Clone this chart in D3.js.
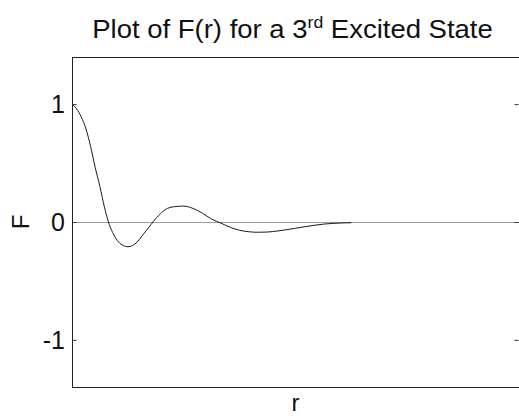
<!DOCTYPE html>
<html>
<head>
<meta charset="utf-8">
<script src="https://cdn.jsdelivr.net/npm/d3@7"></script>
<style>
  html, body { margin: 0; padding: 0; background: #fff; }
  text { font-family: "Liberation Sans", Arial, sans-serif; fill: #111; }
</style>
</head>
<body>
<div id="chart"></div>
<script>

// values
const rValues = [0, 0.25, 0.5, 0.75, 1, 1.25, 1.5, 1.75, 2, 2.25, 2.5, 2.75, 3, 3.25, 3.5, 3.75,
  4, 4.25, 4.5, 4.75, 5, 5.5, 6, 6.5, 7, 7.5, 8, 8.5, 9, 9.5, 10, 10.5, 11, 11.5, 12, 12.5,
  13, 13.5, 14, 14.5, 15];
const fValues = [1.0, 0.96, 0.89, 0.79, 0.64, 0.46, 0.30, 0.12, -0.02, -0.11, -0.17, -0.20, -0.21,
  -0.20, -0.17, -0.12, -0.07, -0.02, 0.03, 0.07, 0.105, 0.13, 0.135, 0.115, 0.075, 0.025, -0.01,
  -0.045, -0.07, -0.083, -0.087, -0.085, -0.077, -0.066, -0.053, -0.04, -0.028, -0.018, -0.012,
  -0.008, -0.006];
const yTicks = [-1, 0, 1];

const W = 519, H = 416;
const M = { top: 57, right: 0, bottom: 29, left: 72 };

const svg = d3.select('#chart').append('svg')
  .attr('width', W)
  .attr('height', H);

const x = d3.scaleLinear().domain([0, 24]).range([M.left, W - M.right]);
const y = d3.scaleLinear().domain([-1.4, 1.4]).range([H - M.bottom, M.top]);

// zero line
svg.append('line')
  .attr('x1', x(0)).attr('x2', x(24))
  .attr('y1', Math.round(y(0)) + 0.5).attr('y2', Math.round(y(0)) + 0.5)
  .attr('stroke', '#9a9a9a')
  .attr('stroke-width', 1);

// curve
const line = d3.line()
  .x((d, i) => x(rValues[i]))
  .y((d) => y(d))
  .curve(d3.curveMonotoneX);

svg.append('path')
  .datum(fValues)
  .attr('d', line)
  .attr('fill', 'none')
  .attr('stroke', '#1a1a1a')
  .attr('stroke-width', 1);

// box
svg.append('rect')
  .attr('x', M.left + 0.5)
  .attr('y', M.top + 0.5)
  .attr('width', W - M.right - M.left)
  .attr('height', H - M.bottom - M.top)
  .attr('fill', 'none')
  .attr('stroke', '#222')
  .attr('stroke-width', 1);

// left and right axes, ticks pointing inward
const left = svg.append('g')
  .attr('transform', `translate(${M.left + 0.5},0)`)
  .call(d3.axisRight(y).tickValues(yTicks).tickSize(4).tickFormat(''));
left.select('.domain').remove();
left.selectAll('line').attr('stroke', '#333');

const right = svg.append('g')
  .attr('transform', `translate(${W - M.right - 0.5},0)`)
  .call(d3.axisLeft(y).tickValues(yTicks).tickSize(4).tickFormat(''));
right.select('.domain').remove();
right.selectAll('line').attr('stroke', '#333');

svg.append('g')
  .selectAll('text')
  .data(yTicks)
  .join('text')
    .attr('x', M.left - 7)
    .attr('y', (d) => y(d))
    .attr('dy', '0.36em')
    .attr('text-anchor', 'end')
    .style('font-size', '25px')
    .text((d) => d === -1 ? '-1' : d);

// axis labels
svg.append('text')
  .attr('transform', `translate(29, ${y(0)}) rotate(-90)`)
  .attr('text-anchor', 'middle')
  .style('font-size', '24px')
  .text('F');

svg.append('text')
  .attr('x', (M.left + W - M.right) / 2)
  .attr('y', 411)
  .attr('text-anchor', 'middle')
  .style('font-size', '24px')
  .text('r');

// title (reference glyphs are slightly wide, so stretch a little)
const title = svg.append('text')
  .attr('transform', `translate(${(M.left + W - M.right) / 2 - 3}, 38) scale(1.1, 1)`)
  .attr('text-anchor', 'middle')
  .style('font-size', '25px');
title.append('tspan').text('Plot of F(r) for a 3');
title.append('tspan').attr('dy', -10).style('font-size', '16px').text('rd');
title.append('tspan').attr('dy', 10).text(' Excited State');

</script>
</body>
</html>
